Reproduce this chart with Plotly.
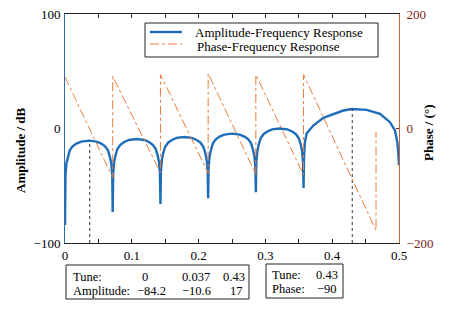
import plotly.graph_objects as go

# ---------------- data ----------------
amp_freq = [
    0.0, 0.0007, 0.0021, 0.0043, 0.0071, 0.0114, 0.0171, 0.0243, 0.0370, 0.0471, 0.0543, 0.0600, 0.0643, 0.0671, 0.0693, 0.0707,
    0.0714, 0.0721, 0.0736, 0.0757, 0.0786, 0.0829, 0.0886, 0.0957, 0.1071, 0.1186, 0.1257, 0.1314, 0.1357, 0.1386, 0.1407, 0.1421,
    0.1429, 0.1436, 0.1450, 0.1471, 0.1500, 0.1543, 0.1600, 0.1671, 0.1786, 0.1900, 0.1971, 0.2029, 0.2071, 0.2100, 0.2121, 0.2136,
    0.2143, 0.2150, 0.2164, 0.2186, 0.2214, 0.2257, 0.2314, 0.2386, 0.2500, 0.2614, 0.2686, 0.2743, 0.2786, 0.2814, 0.2836, 0.2850,
    0.2857, 0.2864, 0.2879, 0.2900, 0.2929, 0.2971, 0.3029, 0.3100, 0.3214, 0.3329, 0.3400, 0.3457, 0.3500, 0.3529, 0.3550, 0.3564,
    0.3571, 0.3578, 0.3592, 0.3617, 0.3717, 0.3867, 0.4016, 0.4166, 0.4300, 0.4516, 0.4716, 0.4865, 0.4940, 0.4975, 0.4990, 0.5000,
]
amp_db = [
    -84.2, -40.6, -30.6, -24.6, -19.1, -15.6, -13.2, -11.4, -10.6, -11.4, -13.2, -15.6, -19.1, -24.6, -30.6, -40.6,
    -73.0, -39.2, -29.2, -23.2, -17.7, -14.2, -11.8, -10.0, -9.2, -10.0, -11.8, -14.2, -17.7, -23.2, -29.2, -39.2,
    -66.0, -37.4, -27.4, -21.4, -15.9, -12.4, -10.0, -8.2, -7.4, -8.2, -10.0, -12.4, -15.9, -21.4, -27.4, -37.4,
    -61.0, -34.5, -24.5, -18.5, -13.0, -9.5, -7.1, -5.3, -4.5, -5.3, -7.1, -9.5, -13.0, -18.5, -24.5, -34.5,
    -55.6, -30.0, -20.0, -14.0, -8.5, -5.0, -2.6, -0.8, 0.0, -0.8, -2.6, -5.0, -8.5, -14.0, -20.0, -30.0,
    -52.0, -25.0, -12.0, -4.4, 2.6, 9.3, 12.8, 15.7, 17.0, 16.3, 12.8, 5.5, -1.7, -12.0, -22.0, -32.0,
]

phase_freq = [0.0, 0.0714, 0.0714, 0.1429, 0.1429, 0.2143, 0.2143, 0.2857, 0.2857, 0.3571, 0.3571, 0.4656, 0.4656]
phase_deg = [90, -86, 91, -77, 94, -78, 96, -80, 94, -81, 94, -178, -6]

amp_tunes = [0, 0.037, 0.43]
amp_values = [-84.2, -10.6, 17]
phase_tune = 0.43
phase_value = -90

x_tick_vals = [0, 0.05, 0.1, 0.15, 0.2, 0.25, 0.3, 0.35, 0.4, 0.45, 0.5]
x_tick_text = ["0", "", "0.1", "", "0.2", "", "0.3", "", "0.4", "", "0.5"]
y1_ticks = [-100, 0, 100]
y2_ticks = [-200, 0, 200]

series_names = ["Amplitude-Frequency Response", "Phase-Frequency Response"]
axis_titles = ["Amplitude / dB", "Phase / (°)"]

# ---------------- styling ----------------
FONT = "Liberation Serif"
BLUE = "#1f6cb8"
ORANGE = "#ec7a3c"
DARKRED = "#7a2418"
OFF = 8                     # page body margin of the html page
W, H = 455 - 2 * OFF, 309 - 2 * OFF
# plot area in page pixels: x 65..399, y 14..243
L = 65 - OFF
T = 14 - OFF
R = W - (399 - OFF)
B = H - (243 - OFF)
PW, PH = W - L - R, H - T - B


def px(x):
    return (x - OFF - L) / PW


def py(y):
    return (H - B - (y - OFF)) / PH


def minus(v):
    s = f"{v:g}"
    return s.replace("-", "\u2212")


fig = go.Figure()

fig.add_trace(go.Scatter(x=amp_freq, y=amp_db, mode="lines", name=series_names[0],
                         line=dict(color=BLUE, width=2.4), yaxis="y", showlegend=False))
fig.add_trace(go.Scatter(x=phase_freq, y=phase_deg, mode="lines", name=series_names[1],
                         line=dict(color=ORANGE, width=1, dash="dashdot"), yaxis="y2", showlegend=False))

# dotted markers at the tunes of the lobe peaks
for t, v in zip(amp_tunes[1:], amp_values[1:]):
    fig.add_trace(go.Scatter(x=[t, t], y=[-100, v], mode="lines",
                             line=dict(color="#333333", width=1, dash="dot"), yaxis="y", showlegend=False,
                             hoverinfo="skip"))

fig.update_layout(
    width=W, height=H,
    margin=dict(l=L, r=R, t=T, b=B, autoexpand=False),
    paper_bgcolor="white", plot_bgcolor="white",
    font=dict(family=FONT, size=13, color="black"),
    xaxis=dict(range=[0, 0.5], tickvals=x_tick_vals, ticktext=x_tick_text, ticks="inside", ticklen=4,
               tickcolor="#222222", showline=True, linecolor="#222222", linewidth=1, mirror="ticks",
               showgrid=False, zeroline=False, tickfont=dict(size=13), automargin=False,
               ticklabeloverflow="allow"),
    yaxis=dict(range=[-100, 100], tickvals=y1_ticks, ticks="", showline=True, linecolor="#2f6cb0",
               linewidth=1, showgrid=False, zeroline=False, tickfont=dict(size=13), automargin=False,
               ticklabelstandoff=1, ticklabeloverflow="allow"),
    yaxis2=dict(range=[-200, 200], tickvals=y2_ticks, overlaying="y", side="right", ticks="inside",
                ticklen=3, tickcolor=DARKRED, showline=True, linecolor="#c8643c", linewidth=1,
                showgrid=False, zeroline=False, tickfont=dict(size=13, color=DARKRED), automargin=False,
                ticklabelstandoff=4, ticklabeloverflow="allow"),
)

shapes = []
annotations = []


def note(x, y, text, xanchor="left", size=13, **kw):
    annotations.append(dict(xref="paper", yref="paper", x=px(x), y=py(y), text=text, showarrow=False,
                            xanchor=xanchor, yanchor="middle", borderpad=0, font=dict(size=size), **kw))


# axis titles
note(20, 150, "<b>" + axis_titles[0] + "</b>", xanchor="center", textangle=-90)
note(428, 133, "<b>" + axis_titles[1] + "</b>", xanchor="center", textangle=-90)

# legend box
shapes.append(dict(type="rect", xref="paper", yref="paper", x0=px(145), x1=px(378), y0=py(23), y1=py(57),
                   line=dict(color="#222222", width=1), fillcolor="white", layer="above"))
shapes.append(dict(type="line", xref="paper", yref="paper", x0=px(150), x1=px(182), y0=py(32), y1=py(32),
                   line=dict(color=BLUE, width=2.4)))
shapes.append(dict(type="line", xref="paper", yref="paper", x0=px(150), x1=px(182), y0=py(44), y1=py(44),
                   line=dict(color=ORANGE, width=1, dash="dashdot")))
note(194, 33, series_names[0])
note(196, 46, series_names[1])

# table 1
TS = 12.5
shapes.append(dict(type="rect", xref="paper", yref="paper", x0=px(66), x1=px(249), y0=py(265), y1=py(299),
                   line=dict(color="#222222", width=1)))
row1_y, row2_y = 276.5, 290.5
note(72, row1_y, "Tune:", size=TS)
note(72, row2_y, "Amplitude:", size=TS)
tune_x = [141, 181, 222]
val_x = [136, 181, 229]
for i in range(3):
    note(tune_x[i], row1_y, minus(amp_tunes[i]), size=TS)
    note(val_x[i], row2_y, minus(amp_values[i]), size=TS)

# table 2
shapes.append(dict(type="rect", xref="paper", yref="paper", x0=px(266), x1=px(343), y0=py(264), y1=py(298),
                   line=dict(color="#222222", width=1)))
r1, r2 = 275, 289
note(271, r1, "Tune:", size=TS)
note(271, r2, "Phase:", size=TS)
note(339, r1, minus(phase_tune), xanchor="right", size=TS)
note(338, r2, minus(phase_value), xanchor="right", size=TS)

fig.update_layout(shapes=shapes, annotations=annotations)

fig.write_html("out.html")
